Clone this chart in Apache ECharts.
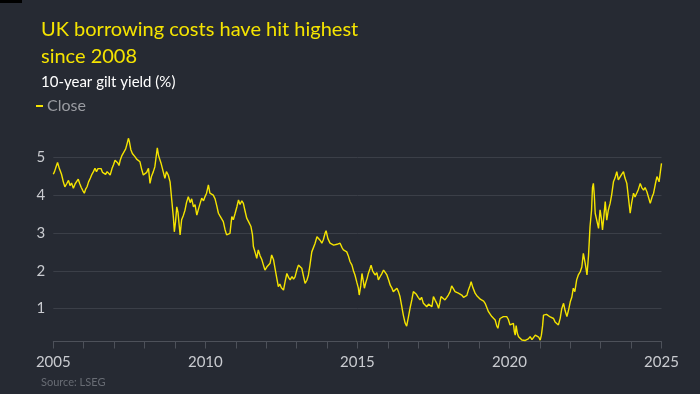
<!DOCTYPE html>
<html><head><meta charset="utf-8">
<script src="https://cdn.jsdelivr.net/npm/echarts@6/dist/echarts.min.js"></script>
<style>html,body{margin:0;padding:0;background:#262a33;}#c{width:700px;height:394px;}</style>
</head><body><div id="c"></div>
<script>
const titleText = "UK borrowing costs have hit highest\nsince 2008";
const subtitleText = "10-year gilt yield (%)";
const sourceText = "Source: LSEG";
const seriesName = "Close";
const yTicks = [1, 2, 3, 4, 5];
const xLabelYears = [2005, 2010, 2015, 2020, 2025];

const dates = [
2005.00,2005.04,2005.08,2005.14,2005.20,2005.27,2005.33,2005.38,2005.44,2005.50,2005.55,2005.60,2005.66,2005.72,2005.78,2005.82,2005.87,2005.92,2005.97,
2006.02,2006.06,2006.11,2006.16,2006.22,2006.27,2006.32,2006.37,2006.42,2006.47,2006.52,2006.57,2006.62,2006.67,2006.72,2006.77,2006.82,2006.87,2006.93,2006.98,
2007.03,2007.08,2007.12,2007.16,2007.20,2007.26,2007.32,2007.38,2007.44,2007.47,2007.50,2007.55,2007.60,2007.65,2007.69,2007.74,2007.80,2007.85,2007.90,2007.96,
2008.02,2008.07,2008.13,2008.18,2008.23,2008.29,2008.34,2008.38,2008.42,2008.46,2008.50,2008.54,2008.57,2008.62,2008.67,2008.72,2008.78,2008.84,2008.90,2008.95,2008.98,
2009.02,2009.06,2009.10,2009.14,2009.17,2009.22,2009.28,2009.33,2009.38,2009.44,2009.50,2009.55,2009.61,2009.66,2009.72,2009.78,2009.84,2009.88,2009.94,2009.99,
2010.04,2010.10,2010.15,2010.21,2010.26,2010.32,2010.38,2010.43,2010.48,2010.54,2010.59,2010.65,2010.70,2010.76,2010.81,2010.87,2010.92,2010.98,
2011.04,2011.09,2011.14,2011.20,2011.25,2011.30,2011.36,2011.42,2011.46,2011.50,2011.55,2011.58,2011.64,2011.69,2011.74,2011.80,2011.86,2011.91,2011.96,
2012.02,2012.08,2012.13,2012.18,2012.24,2012.29,2012.35,2012.40,2012.45,2012.50,2012.57,2012.62,2012.68,2012.74,2012.79,2012.85,2012.90,2012.95,
2013.00,2013.06,2013.12,2013.17,2013.23,2013.28,2013.34,2013.39,2013.44,2013.50,2013.56,2013.61,2013.67,2013.72,2013.78,2013.83,2013.88,2013.94,2013.97,
2014.03,2014.10,2014.16,2014.22,2014.27,2014.33,2014.38,2014.43,2014.49,2014.54,2014.60,2014.65,2014.70,2014.76,2014.82,2014.87,2014.92,2014.98,
2015.03,2015.06,2015.11,2015.15,2015.19,2015.23,2015.28,2015.32,2015.36,2015.41,2015.45,2015.50,2015.54,2015.58,2015.64,2015.69,2015.75,2015.80,2015.86,2015.92,2015.97,
2016.03,2016.08,2016.13,2016.18,2016.24,2016.30,2016.35,2016.40,2016.45,2016.51,2016.57,2016.62,2016.68,2016.73,2016.79,2016.84,2016.88,2016.94,
2017.00,2017.06,2017.11,2017.17,2017.22,2017.28,2017.34,2017.39,2017.45,2017.50,2017.56,2017.61,2017.67,2017.71,2017.75,2017.81,2017.88,2017.94,2017.99,
2018.05,2018.10,2018.16,2018.21,2018.27,2018.32,2018.38,2018.43,2018.49,2018.54,2018.60,2018.65,2018.70,2018.74,2018.80,2018.87,2018.92,2018.98,
2019.04,2019.09,2019.15,2019.20,2019.26,2019.31,2019.37,2019.42,2019.47,2019.53,2019.58,2019.62,2019.66,2019.69,2019.75,2019.80,2019.86,2019.91,2019.96,
2020.02,2020.07,2020.13,2020.16,2020.19,2020.22,2020.26,2020.30,2020.35,2020.41,2020.47,2020.52,2020.57,2020.62,2020.68,2020.74,2020.79,2020.85,2020.90,2020.96,
2021.01,2021.05,2021.09,2021.12,2021.17,2021.22,2021.28,2021.34,2021.40,2021.45,2021.50,2021.56,2021.61,2021.67,2021.72,2021.78,2021.83,2021.89,2021.94,
2022.00,2022.05,2022.10,2022.15,2022.21,2022.27,2022.33,2022.38,2022.43,2022.49,2022.55,2022.60,2022.65,2022.70,2022.73,2022.76,2022.79,2022.82,2022.87,2022.93,2022.98,
2023.02,2023.06,2023.10,2023.15,2023.20,2023.25,2023.31,2023.36,2023.42,2023.47,2023.53,2023.58,2023.64,2023.69,2023.75,2023.80,2023.86,2023.91,2023.97,
2024.02,2024.08,2024.13,2024.19,2024.24,2024.30,2024.35,2024.41,2024.46,2024.52,2024.57,2024.63,2024.69,2024.74,2024.80,2024.85,2024.92,2024.96,2025.00
];
const yields = [
4.55,4.62,4.72,4.86,4.70,4.55,4.35,4.22,4.30,4.39,4.25,4.32,4.18,4.30,4.35,4.42,4.30,4.20,4.12,
4.05,4.15,4.22,4.35,4.45,4.55,4.62,4.71,4.62,4.70,4.66,4.70,4.60,4.62,4.55,4.62,4.60,4.53,4.70,4.80,
4.92,4.97,4.85,4.78,4.92,5.05,5.10,5.22,5.40,5.50,5.42,5.20,5.10,5.05,5.01,4.95,5.00,4.88,4.70,4.53,
4.49,4.60,4.71,4.31,4.50,4.62,4.75,5.00,5.25,5.05,5.00,4.85,4.88,4.60,4.44,4.62,4.53,4.35,3.83,3.40,3.03,
3.30,3.69,3.55,3.20,2.95,3.35,3.47,3.60,3.80,3.96,3.80,3.90,3.69,3.75,3.47,3.65,3.70,3.92,3.85,3.96,
4.05,4.27,4.05,4.10,4.00,3.90,3.70,3.52,3.45,3.40,3.30,3.08,2.95,2.90,2.99,3.43,3.35,3.52,
3.70,3.87,3.75,3.85,3.78,3.60,3.39,3.30,3.35,3.17,2.95,2.64,2.48,2.33,2.55,2.40,2.29,2.15,2.02,
2.10,2.05,2.20,2.42,2.30,2.07,1.80,1.58,1.65,1.55,1.49,1.70,1.93,1.82,1.76,1.85,1.78,1.84,
2.00,2.15,2.10,2.07,1.85,1.67,1.75,1.89,2.15,2.50,2.45,2.73,2.90,2.95,2.80,2.73,2.82,3.00,3.06,
2.85,2.73,2.75,2.68,2.64,2.70,2.66,2.73,2.62,2.55,2.58,2.50,2.40,2.24,2.15,2.00,1.89,1.70,
1.55,1.36,1.60,1.93,1.75,1.54,1.70,1.80,1.93,2.05,2.15,2.00,2.05,1.89,1.95,1.76,1.85,1.92,2.02,1.95,1.89,
1.75,1.62,1.55,1.45,1.50,1.54,1.45,1.32,1.10,0.83,0.62,0.54,0.79,1.01,1.23,1.45,1.45,1.38,
1.30,1.23,1.30,1.14,1.18,1.05,1.12,1.10,1.05,1.32,1.22,1.14,1.01,1.15,1.32,1.30,1.23,1.30,1.36,
1.45,1.60,1.52,1.45,1.48,1.41,1.45,1.36,1.30,1.27,1.35,1.49,1.60,1.71,1.55,1.41,1.35,1.32,
1.25,1.23,1.20,1.14,1.10,0.92,0.85,0.79,0.75,0.70,0.55,0.48,0.65,0.74,0.74,0.79,0.80,0.79,0.72,
0.57,0.55,0.61,0.40,0.30,0.55,0.35,0.26,0.22,0.17,0.20,0.16,0.13,0.20,0.26,0.18,0.22,0.30,0.30,0.25,
0.17,0.30,0.55,0.83,0.80,0.85,0.83,0.78,0.80,0.74,0.65,0.60,0.57,0.75,1.00,1.14,0.95,0.79,0.95,
1.18,1.30,1.54,1.45,1.76,1.90,1.98,2.10,2.46,2.20,1.89,2.40,3.17,3.60,4.20,4.31,4.00,3.52,3.52,3.12,3.61,
3.40,3.08,3.40,3.83,3.34,3.60,3.78,4.00,4.35,4.45,4.62,4.40,4.40,4.55,4.62,4.45,4.31,3.95,3.52,
3.80,4.05,3.95,4.00,4.15,4.31,4.20,4.13,4.20,4.09,3.95,3.78,3.95,4.05,4.30,4.49,4.35,4.60,4.84
];

const BG = '#262a33', YEL = '#f5e400', GRID = '#3b3f48', AXIS = '#4d515a';
const chart = echarts.init(document.getElementById('c'), null, {renderer: 'canvas'});
const FONT = 'Lato';
const data = dates.map((d, i) => [d, yields[i]]);
const splitColors = [0,1,2,3,4,5,6].map(v => yTicks.indexOf(v) >= 0 ? GRID : 'rgba(0,0,0,0)');

chart.setOption({
  backgroundColor: BG,
  animation: false,
  title: [
    {text: titleText, left: 36, top: 11, textStyle: {color: YEL, fontFamily: FONT, fontSize: 20, fontWeight: 'normal', lineHeight: 27}},
    {text: subtitleText, left: 36, top: 70, textStyle: {color: '#ffffff', fontFamily: FONT, fontSize: 15, fontWeight: 'normal'}},
    {text: sourceText, left: 36, top: 372, textStyle: {color: '#686c74', fontFamily: FONT, fontSize: 11, fontWeight: 'normal'}}
  ],
  legend: {
    left: 31, top: 93, icon: 'rect', itemWidth: 7, itemHeight: 2, itemGap: 10,
    textStyle: {color: '#9a9ca2', fontFamily: FONT, fontSize: 16, padding: [0,0,0,-1]},
    data: [seriesName]
  },
  graphic: [
    {type: 'rect', left: 0, top: 0, shape: {width: 22, height: 3}, style: {fill: '#000'}}
  ],
  grid: {left: 53.3, right: 38.5, top: 119.4, bottom: 47.5, containLabel: false},
  xAxis: {
    type: 'value', min: 2005, max: 2025, interval: 1, offset: -5,
    axisLine: {show: true, lineStyle: {color: AXIS, width: 1}},
    axisTick: {show: true, length: 7, lineStyle: {color: AXIS}},
    splitLine: {show: false},
    axisLabel: {
      margin: 13, color: '#c9cbd0', fontFamily: FONT, fontSize: 15,
      formatter: v => xLabelYears.indexOf(Math.round(v)) >= 0 ? String(Math.round(v)) : ''
    }
  },
  yAxis: {
    type: 'value', min: 0, max: 6, interval: 1,
    axisLine: {show: false}, axisTick: {show: false},
    splitLine: {show: true, lineStyle: {color: splitColors, width: 1}},
    axisLabel: {
      margin: 8, color: '#c9cbd0', fontFamily: FONT, fontSize: 15,
      formatter: v => yTicks.indexOf(v) >= 0 ? String(v) : ''
    }
  },
  series: [{
    name: seriesName, type: 'line', data: data, showSymbol: false, symbol: 'none',
    lineStyle: {color: YEL, width: 1.4}, itemStyle: {color: YEL}, clip: false
  }]
});
</script></body></html>
